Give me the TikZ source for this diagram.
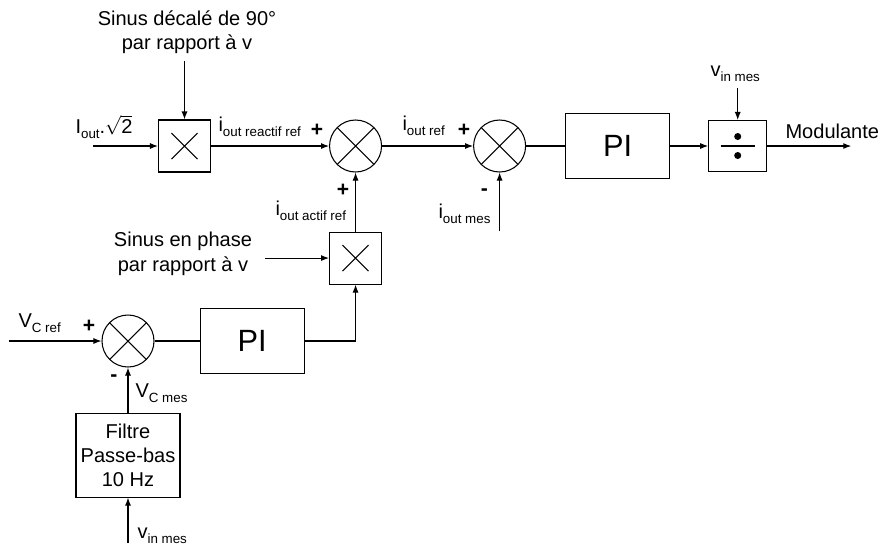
\documentclass[tikz,border=0pt]{standalone}
\usepackage{fontspec}
\setmainfont{Liberation Sans}
\usetikzlibrary{arrows.meta,positioning}
\newcommand{\lowsub}[1]{\raisebox{-3.2pt}{\fontsize{7.6}{9}\selectfont #1}}

\begin{document}
\begin{tikzpicture}[
  >={Latex[length=1.6mm,width=1.2mm]},
  line width=0.6pt,
  every node/.style={font=\fontsize{11.4}{14}\selectfont},
  lbl/.style={inner sep=0pt,anchor=base west},
  sign/.style={inner sep=0pt,font=\fontsize{12}{14}\selectfont\bfseries},
  mult/.style={rectangle,draw,minimum size=1.04cm,inner sep=0pt,
    path picture={\draw ([shift={(-0.26,-0.26)}]path picture bounding box.center) -- ([shift={(0.26,0.26)}]path picture bounding box.center)
      ([shift={(-0.26,0.26)}]path picture bounding box.center) -- ([shift={(0.26,-0.26)}]path picture bounding box.center);}},
  sum/.style={circle,draw,minimum size=1.04cm,inner sep=0pt,
    path picture={\draw (path picture bounding box.south west) -- (path picture bounding box.north east)
      (path picture bounding box.north west) -- (path picture bounding box.south east);}},
  divbox/.style={rectangle,draw,minimum width=1.16cm,minimum height=1.02cm,inner sep=0pt,
    path picture={\draw ([xshift=-0.34cm]path picture bounding box.center) -- ([xshift=0.34cm]path picture bounding box.center);
      \fill ([yshift=0.19cm]path picture bounding box.center) circle (0.07)
            ([yshift=-0.19cm]path picture bounding box.center) circle (0.07);}},
  pibox/.style={rectangle,draw,minimum width=2.08cm,minimum height=1.3cm,font=\fontsize{17.5}{20}\selectfont},
  filt/.style={rectangle,draw,minimum width=2.08cm,minimum height=1.68cm,inner sep=1pt,align=center,
    font=\fontsize{11.4}{13.6}\selectfont}
]
\useasboundingbox (0,0) rectangle (17.64,-10.9);

% upper loop
\node[mult] (m1) at (3.69,-2.92) {};
\node[sum,right=2.36cm of m1] (s1) {};
\node[sum,right=1.82cm of s1] (s2) {};
\node[pibox,right=0.78cm of s2] (pi1) {PI};
\node[divbox,right=0.76cm of pi1] (dv) {};
\node[mult,below=1.18cm of s1] (m2) {};

% lower loop
\node[sum] (s3) at (2.56,-6.82) {};
\node[pibox,right=0.9cm of s3] (pi2) {PI};
\node[filt,below=0.9cm of s3] (lp) {Filtre\\Passe-bas\\10 Hz};

% free ends
\coordinate[above=1.16cm of m1] (sdin);
\coordinate[left=1.3cm of m1] (in1);
\coordinate[right=1.68cm of dv] (out);
\coordinate[above=0.64cm of dv] (vin1);
\coordinate[below=1.16cm of s2] (iom);
\coordinate[left=1.28cm of m2] (spin);
\coordinate[left=1.84cm of s3] (vcr);
\coordinate[below=0.9cm of lp] (vin2);

% texts
\node[inner sep=0pt,align=center] (sd) at (3.74,-0.64) {Sinus décalé de 90°\\par rapport à v};
\node[inner sep=0pt,align=center] (sp) at (3.66,-5.08) {Sinus en phase\\par rapport à v};
\node[lbl] (tin1) at (1.5,-2.66) {I\lowsub{out}.$\sqrt{\mbox{2}}$};
\node[lbl] (treac) at (4.36,-2.62) {i\lowsub{out reactif ref}};
\node[lbl] (tref) at (8.04,-2.6) {i\lowsub{out ref}};
\node[lbl] (tact) at (5.5,-4.3) {i\lowsub{out actif ref}};
\node[lbl] (tmes) at (8.76,-4.36) {i\lowsub{out mes}};
\node[lbl] (tvin1) at (14.2,-1.52) {v\lowsub{in mes}};
\node[lbl] (tmod) at (15.7,-2.76) {Modulante};
\node[lbl] (tvcr) at (0.36,-6.54) {V\lowsub{C ref}};
\node[lbl] (tvcm) at (2.7,-7.94) {V\lowsub{C mes}};
\node[lbl] (tvin2) at (2.74,-10.76) {v\lowsub{in mes}};

% signs
\node[sign] (p1) at (6.34,-2.6) {+};
\node[sign] (p2) at (6.86,-3.8) {+};
\node[sign] (p3) at (9.28,-2.6) {+};
\node[sign] (n3) at (9.69,-3.84) {-};
\node[sign] (p4) at (1.78,-6.52) {+};
\node[sign] (n4) at (2.28,-7.56) {-};

% connectors
\draw[->] (sdin) -- (m1.north);
\draw[->] (in1) -- (m1.west);
\draw[->] (m1.east) -- (s1.west);
\draw[->] (s1.east) -- (s2.west);
\draw (s2.east) -- (pi1.west);
\draw[->] (pi1.east) -- (dv.west);
\draw[->] (dv.east) -- (out);
\draw[->] (vin1) -- (dv.north);
\draw[->] (iom) -- (s2.south);
\draw[->] (m2.north) -- (s1.south);
\draw[->] (spin) -- (m2.west);
\draw[->] (pi2.east) -| (m2.south);
\draw (s3.east) -- (pi2.west);
\draw[->] (vcr) -- (s3.west);
\draw[->] (lp.north) -- (s3.south);
\draw[->] (vin2) -- (lp.south);
\end{tikzpicture}
\end{document}
